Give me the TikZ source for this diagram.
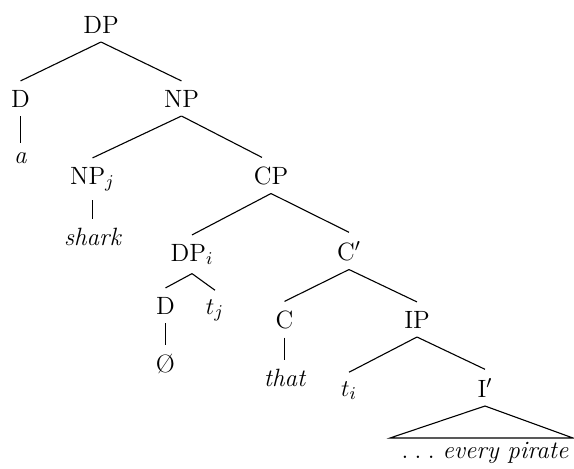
\documentclass[tikz,border=0pt]{standalone}
\begin{document}
\begin{tikzpicture}[x=0.5pt,y=-0.5pt,
  tn/.style={anchor=base,inner xsep=2pt,inner ysep=4.3pt,font=\fontsize{12.5}{15}\selectfont},
  edge/.style={line width=0.55pt}]
\useasboundingbox (0,0) rectangle (574,468);
\node[tn] (DP) at (101,33) {DP};
\node[tn] (D1) at (20.5,107) {D};
\node[tn] (NP) at (181.5,107) {NP};
\node[tn] (a) at (20.5,163) {\itshape a};
\node[tn] (NPj) at (92.5,184) {NP$_j$};
\node[tn] (CP) at (271,184) {CP};
\node[tn] (shark) at (92.5,245) {\itshape shark};
\node[tn] (DPi) at (192,261) {DP$_i$};
\node[tn] (Cbar) at (349,260) {C$'$};
\node[tn] (D2) at (165.5,314) {D};
\node[tn] (tj) at (215,314) {$t_j$};
\node[tn] (C) at (284.5,328) {C};
\node[tn] (IP) at (417,328) {IP};
\node[tn] (null) at (165.5,372) {\O};
\node[tn] (that) at (284.5,386) {\itshape that};
\node[tn] (ti) at (349,396) {$t_i$};
\node[tn] (Ibar) at (485,397) {I$'$};
\node[tn] (pirate) at (485,458) {.\hspace{0.25em}.\hspace{0.25em}.\ \itshape every pirate};
\coordinate (tl) at (390,438);
\coordinate (tr) at (573,438);
\draw[edge] (DP.south) -- (D1.north);
\draw[edge] (DP.south) -- (NP.north);
\draw[edge] (D1.south) -- (a.north);
\draw[edge] (NP.south) -- (NPj.north);
\draw[edge] (NP.south) -- ([xshift=-4.5pt]CP.north);
\draw[edge] (NPj.south) -- (shark.north);
\draw[edge] (CP.south) -- (DPi.north);
\draw[edge] (CP.south) -- (Cbar.north);
\draw[edge] (DPi.south) -- (D2.north);
\draw[edge] (DPi.south) -- (tj.north);
\draw[edge] (D2.south) -- (null.north);
\draw[edge] (Cbar.south) -- (C.north);
\draw[edge] (Cbar.south) -- (IP.north);
\draw[edge] (C.south) -- (that.north);
\draw[edge] (IP.south) -- (ti.north);
\draw[edge] (IP.south) -- (Ibar.north);
\draw[edge] (tl) -- (Ibar.south) -- (tr) -- cycle;
\end{tikzpicture}
\end{document}
